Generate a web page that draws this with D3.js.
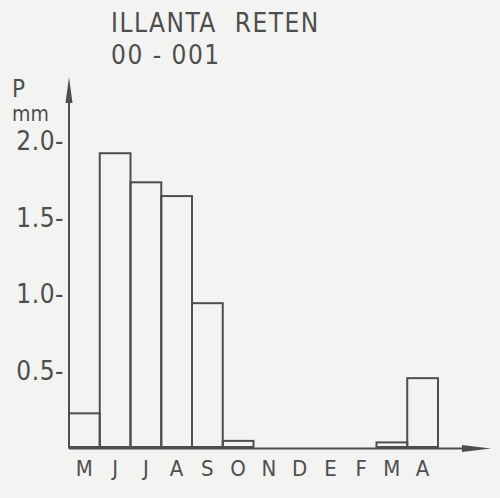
<!DOCTYPE html>
<html>
<head>
<meta charset="utf-8">
<script src="https://cdn.jsdelivr.net/npm/d3@7"></script>
<style>
  html, body { margin: 0; padding: 0; background: #f3f3f1; }
  svg { display: block; }
  text { font-family: "DejaVu Sans Condensed", "DejaVu Sans", sans-serif; fill: #4e4e4e; }
</style>
</head>
<body>
<svg id="chart" width="500" height="498"></svg>
<script>
// Monthly precipitation, station ILLANTA RETEN (00-001), May through April
const months = ["M", "J", "J", "A", "S", "O", "N", "D", "E", "F", "M", "A"];
const precip = [0.22, 1.92, 1.73, 1.64, 0.94, 0.04, 0, 0, 0, 0, 0.03, 0.45];
const yTicks = [0.5, 1.0, 1.5, 2.0];
const titleLines = ["ILLANTA  RETEN", "00 - 001"];

const ink = "#4e4e4e";
const svg = d3.select("#chart");

const x = d3.scaleBand()
  .domain(d3.range(months.length))
  .range([69, 438])
  .padding(0);

const y = d3.scaleLinear()
  .domain([0, 2])
  .range([447, 141]);

// Bars: open rectangles
svg.append("g")
  .selectAll("rect")
  .data(precip)
  .join("rect")
  .attr("x", (d, i) => x(i))
  .attr("y", d => y(d))
  .attr("width", x.bandwidth())
  .attr("height", d => y(0) - y(d))
  .attr("fill", "none")
  .attr("stroke", ink)
  .attr("stroke-width", 2)
  .attr("display", d => d > 0 ? null : "none");

// Horizontal axis with arrow
const baseY = y(0) + 1.5;
svg.append("line")
  .attr("x1", x.range()[0]).attr("x2", 472)
  .attr("y1", baseY).attr("y2", baseY)
  .attr("stroke", ink).attr("stroke-width", 2);
svg.append("path")
  .attr("d", `M462,${baseY - 3.5} L491,${baseY} L462,${baseY + 3.5} Z`)
  .attr("fill", ink);

// Vertical axis with arrow
const axX = x.range()[0];
svg.append("line")
  .attr("x1", axX).attr("x2", axX)
  .attr("y1", baseY).attr("y2", 98)
  .attr("stroke", ink).attr("stroke-width", 2);
svg.append("path")
  .attr("d", `M${axX - 3.5},103 L${axX},77 L${axX + 3.5},103 Z`)
  .attr("fill", ink);

// Y tick labels with dash marks
const yAxis = d3.axisLeft(y)
  .tickValues(yTicks)
  .tickSize(0)
  .tickPadding(0)
  .tickFormat(d => d.toFixed(1) + "-");
const gy = svg.append("g")
  .attr("transform", `translate(${axX - 5},0)`)
  .call(yAxis);
gy.select(".domain").remove();
gy.selectAll("text")
  .attr("font-size", 26)
  .attr("font-family", null)
  .attr("fill", ink)
  .attr("letter-spacing", 0.5)
  .attr("dy", "0.34em");

// Month labels
const xAxis = d3.axisBottom(x)
  .tickSize(0)
  .tickPadding(0)
  .tickFormat(i => months[i]);
const gx = svg.append("g")
  .attr("transform", `translate(0,${baseY + 12})`)
  .call(xAxis);
gx.select(".domain").remove();
gx.selectAll("text")
  .attr("font-size", 22)
  .attr("font-family", null)
  .attr("fill", ink)
  .attr("dy", "0.71em");

// Axis unit label
svg.append("text").attr("x", 12).attr("y", 97).attr("font-size", 24).text("P");
svg.append("text").attr("x", 12).attr("y", 121).attr("font-size", 21).text("mm");

// Station title
svg.append("g")
  .selectAll("text")
  .data(titleLines)
  .join("text")
  .attr("x", 111)
  .attr("y", (d, i) => 32 + i * 32)
  .attr("font-size", 26)
  .attr("letter-spacing", 1.5)
  .style("white-space", "pre")
  .text(d => d);
</script>
</body>
</html>
